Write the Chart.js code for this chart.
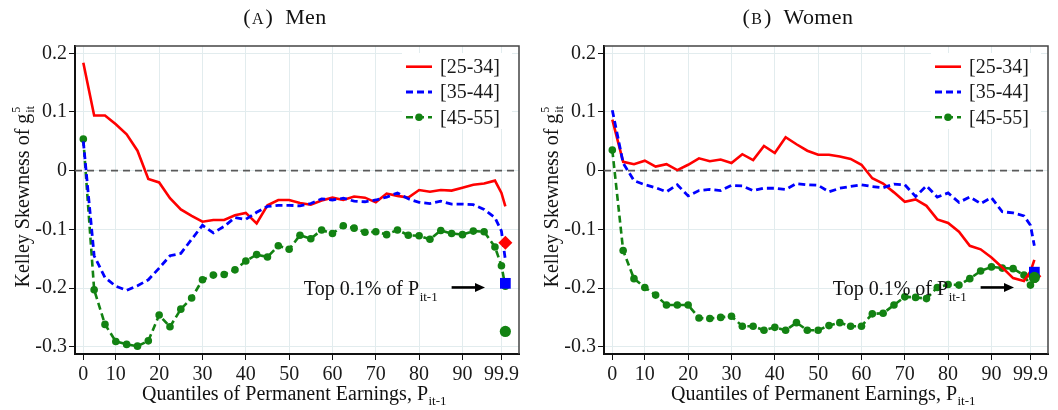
<!DOCTYPE html>
<html><head><meta charset="utf-8">
<script src="https://cdn.jsdelivr.net/npm/chart.js@4.4.1/dist/chart.umd.min.js"></script>
<style>
html,body{margin:0;padding:0;background:#fff;}
#wrap{position:relative;width:1058px;height:410px;overflow:hidden;font-family:"Liberation Serif","Times New Roman",serif;}
canvas{position:absolute;top:0;}
.ttl{position:absolute;top:5px;width:240px;text-align:center;font-size:22px;line-height:24px;color:#111;letter-spacing:0.4px;white-space:nowrap;}
.sc{font-size:16px;letter-spacing:1px;padding:0 1px;}
</style></head><body>
<div id="wrap">
<canvas id="c1" width="529" height="410" style="left:0"></canvas>
<canvas id="c2" width="529" height="410" style="left:529px"></canvas>
<div class="ttl" style="left:165px">(<span class="sc">A</span>)&nbsp;&nbsp;Men</div>
<div class="ttl" style="left:678px">(<span class="sc">B</span>)&nbsp;&nbsp;Women</div>
</div>
<script>
// ---- data ----
const quantiles = [2.5,5,7.5,10,12.5,15,17.5,20,22.5,25,27.5,30,32.5,35,37.5,40,42.5,45,47.5,50,
  52.5,55,57.5,60,62.5,65,67.5,70,72.5,75,77.5,80,82.5,85,87.5,90,92.5,95,97.5,99,99.9];
const top01X = 99.9;
const xTickPos = [2.5,10,20,30,40,50,60,70,80,90,99];
const xTickLabels = ['0','10','20','30','40','50','60','70','80','90','99.9'];
const yTicks = [-0.3,-0.2,-0.1,0,0.1,0.2];
const seriesLabels = ['[25-34]','[35-44]','[45-55]'];

const menRed = [0.184,0.094,0.094,0.079,0.062,0.034,-0.014,-0.020,-0.047,-0.066,
  -0.077,-0.087,-0.084,-0.084,-0.076,-0.072,-0.090,-0.059,-0.050,-0.050,
  -0.055,-0.058,-0.051,-0.046,-0.050,-0.044,-0.046,-0.054,-0.039,-0.043,
  -0.046,-0.033,-0.036,-0.033,-0.034,-0.029,-0.024,-0.022,-0.017,-0.038,-0.061];
const menBlue = [0.050,-0.145,-0.182,-0.197,-0.204,-0.196,-0.186,-0.166,-0.145,-0.141,
  -0.117,-0.093,-0.106,-0.095,-0.080,-0.083,-0.071,-0.061,-0.059,-0.059,
  -0.060,-0.056,-0.048,-0.050,-0.047,-0.052,-0.053,-0.050,-0.045,-0.038,
  -0.048,-0.054,-0.056,-0.052,-0.057,-0.057,-0.058,-0.066,-0.080,-0.103,-0.152];
const menGreen = [0.054,-0.203,-0.262,-0.291,-0.296,-0.299,-0.290,-0.246,-0.266,-0.236,
  -0.217,-0.186,-0.178,-0.177,-0.169,-0.154,-0.143,-0.147,-0.128,-0.134,
  -0.110,-0.116,-0.101,-0.107,-0.094,-0.098,-0.105,-0.104,-0.109,-0.101,
  -0.110,-0.111,-0.117,-0.102,-0.107,-0.109,-0.103,-0.104,-0.130,-0.162,-0.197];
const menTop01 = [-0.123,-0.192,-0.274];

const womenRed = [0.087,0.015,0.011,0.017,0.007,0.011,0.001,0.010,0.021,0.016,
  0.019,0.013,0.028,0.018,0.042,0.030,0.057,0.045,0.034,0.027,
  0.027,0.024,0.020,0.010,-0.013,-0.022,-0.037,-0.053,-0.049,-0.060,
  -0.083,-0.089,-0.104,-0.128,-0.134,-0.148,-0.165,-0.183,-0.188,-0.172,-0.152];
const womenBlue = [0.103,0.013,-0.017,-0.024,-0.029,-0.036,-0.024,-0.043,-0.034,-0.032,
  -0.034,-0.025,-0.026,-0.034,-0.030,-0.030,-0.032,-0.022,-0.024,-0.025,
  -0.036,-0.030,-0.027,-0.024,-0.027,-0.029,-0.023,-0.024,-0.044,-0.026,
  -0.045,-0.038,-0.054,-0.045,-0.056,-0.046,-0.070,-0.072,-0.077,-0.093,-0.128];
const womenGreen = [0.035,-0.136,-0.184,-0.199,-0.212,-0.229,-0.229,-0.229,-0.251,-0.252,
  -0.250,-0.248,-0.265,-0.265,-0.272,-0.267,-0.272,-0.259,-0.272,-0.272,
  -0.264,-0.259,-0.265,-0.265,-0.244,-0.243,-0.229,-0.215,-0.216,-0.218,
  -0.199,-0.194,-0.195,-0.184,-0.171,-0.164,-0.166,-0.167,-0.178,-0.195,-0.185];
const womenTop01 = [-0.180,-0.173,-0.182];

// ---- styling ----
const SERIF = '"Liberation Serif","Times New Roman",serif';
const RED = '#ff0000', BLUE = '#0000ff', GREEN = '#128212';
const GRID = '#e2ecee';

function pts(arr){ return quantiles.map((x,i)=>({x:x, y:arr[i]})); }

const decoPlugin = {
  id:'deco',
  beforeDatasetsDraw(chart){
    const ctx = chart.ctx, a = chart.chartArea, ys = chart.scales.y;
    const y0 = ys.getPixelForValue(0);
    ctx.save();
    ctx.strokeStyle = '#5a5a5a'; ctx.lineWidth = 1.6; ctx.setLineDash([7,5]);
    ctx.beginPath(); ctx.moveTo(a.left, y0); ctx.lineTo(a.right, y0); ctx.stroke();
    ctx.restore();
  },
  afterDatasetsDraw(chart){
    const ctx = chart.ctx, a = chart.chartArea, xs = chart.scales.x, ys = chart.scales.y;
    const ds = chart.data.datasets;
    ctx.save();
    // frame top/right
    ctx.strokeStyle = '#444'; ctx.lineWidth = 1.5; ctx.setLineDash([]);
    ctx.beginPath(); ctx.moveTo(a.left, a.top); ctx.lineTo(a.right, a.top); ctx.lineTo(a.right, a.bottom); ctx.stroke();
    // legend
    ctx.fillStyle = '#fff';
    ctx.fillRect(a.right-117, a.top+7, 110, 76);
    const rows = [a.top+20.7, a.top+46, a.top+71.3];
    const lx0 = a.right-113, lx1 = a.right-87, tx = a.right-79;
    ctx.font = '20px ' + SERIF; ctx.textBaseline = 'middle'; ctx.textAlign = 'left';
    for (let i=0;i<3;i++){
      const d = ds[i];
      ctx.strokeStyle = d.borderColor; ctx.lineWidth = d.borderWidth;
      ctx.setLineDash(d.borderDash || []);
      ctx.beginPath(); ctx.moveTo(lx0, rows[i]); ctx.lineTo(lx1, rows[i]); ctx.stroke();
      ctx.setLineDash([]);
      if (d.pointRadius > 0){
        ctx.fillStyle = d.borderColor;
        ctx.beginPath(); ctx.arc((lx0+lx1)/2, rows[i], d.pointRadius, 0, Math.PI*2); ctx.fill();
      }
      ctx.fillStyle = '#1a1a1a';
      ctx.fillText(d.label, tx, rows[i]+1);
    }
    // annotation
    ctx.fillStyle = '#111'; ctx.textBaseline = 'alphabetic';
    const ax = xs.getPixelForValue(53.4), ay = ys.getPixelForValue(-0.2125);
    ctx.font = '20px ' + SERIF;
    const t1 = 'Top 0.1% of P';
    ctx.fillText(t1, ax, ay);
    const w1 = ctx.measureText(t1).width;
    ctx.font = '13px ' + SERIF;
    ctx.fillText('it-1', ax + w1 + 0.5, ay + 6);
    // arrow
    const x0 = xs.getPixelForValue(87.5), x1 = xs.getPixelForValue(95.2), yA = ys.getPixelForValue(-0.199);
    ctx.strokeStyle = '#000'; ctx.lineWidth = 2.6;
    ctx.beginPath(); ctx.moveTo(x0, yA); ctx.lineTo(x1-8, yA); ctx.stroke();
    ctx.fillStyle = '#000';
    ctx.beginPath(); ctx.moveTo(x1, yA); ctx.lineTo(x1-10, yA-4.5); ctx.lineTo(x1-10, yA+4.5); ctx.closePath(); ctx.fill();
    ctx.restore();
  },
  afterDraw(chart){
    const ctx = chart.ctx, a = chart.chartArea;
    ctx.save();
    ctx.fillStyle = '#111'; ctx.textBaseline = 'alphabetic'; ctx.textAlign = 'left';
    // x title
    ctx.font = '20px ' + SERIF;
    const xt = 'Quantiles of Permanent Earnings, P';
    const wx = ctx.measureText(xt).width;
    ctx.font = '13px ' + SERIF;
    const wsub = ctx.measureText('it-1').width;
    const cx = (a.left + a.right)/2 - 3;
    const sx = cx - (wx + wsub)/2;
    ctx.font = '20px ' + SERIF;
    ctx.fillText(xt, sx, 400);
    ctx.font = '13px ' + SERIF;
    ctx.fillText('it-1', sx + wx + 0.5, 405);
    // y title
    ctx.translate(29, (a.top + a.bottom)/2 - 3);
    ctx.rotate(-Math.PI/2);
    ctx.font = '20px ' + SERIF;
    const yt = 'Kelley Skewness of g';
    const wy = ctx.measureText(yt).width;
    ctx.font = '13px ' + SERIF;
    const ws = Math.max(ctx.measureText('5').width, ctx.measureText('it').width);
    const sy = -(wy + ws)/2;
    ctx.font = '20px ' + SERIF;
    ctx.fillText(yt, sy, 0);
    ctx.font = '12px ' + SERIF;
    ctx.fillText('5', sy + wy + 1, -9);
    ctx.fillText('it', sy + wy + 1, 5);
    ctx.restore();
  }
};

function makeChart(id, red, blue, green, top){
  return new Chart(document.getElementById(id), {
    type: 'line',
    data: { datasets: [
      {label: seriesLabels[0], data: pts(red), borderColor: RED, borderWidth: 2.6, pointRadius: 0, tension: 0, order: 4},
      {label: seriesLabels[1], data: pts(blue), borderColor: BLUE, borderWidth: 2.8, borderDash: [7,4], pointRadius: 0, tension: 0, order: 3},
      {label: seriesLabels[2], data: pts(green), borderColor: GREEN, backgroundColor: GREEN, borderWidth: 2.6, borderDash: [7,4],
        pointRadius: 3.8, pointBackgroundColor: GREEN, pointBorderWidth: 0, tension: 0, order: 5},
      {label: 'top-red', data: [{x: top01X, y: top[0]}], showLine: false, pointStyle: 'rectRot', pointRadius: 7,
        pointBackgroundColor: RED, pointBorderWidth: 0, order: 2},
      {label: 'top-blue', data: [{x: top01X, y: top[1]}], showLine: false, pointStyle: 'rect', pointRadius: 7.6,
        pointBackgroundColor: BLUE, pointBorderWidth: 0, order: 1},
      {label: 'top-green', data: [{x: top01X, y: top[2]}], showLine: false, pointStyle: 'circle', pointRadius: 5.6,
        pointBackgroundColor: GREEN, pointBorderWidth: 0, order: 0}
    ]},
    options: {
      responsive: false, animation: false, devicePixelRatio: 1,
      layout: {padding: {left: 0, top: 46, right: 10, bottom: 0}},
      plugins: {legend: {display: false}, tooltip: {enabled: false}, title: {display: false}},
      scales: {
        x: {
          type: 'linear', min: 0.58, max: 103.05,
          afterBuildTicks: s => { s.ticks = xTickPos.map(v => ({value: v})); },
          afterFit: s => { s.height = 56; },
          ticks: {callback: (v, i) => xTickLabels[i], font: {family: SERIF, size: 20}, color: '#1a1a1a',
                  padding: 3, maxRotation: 0, autoSkip: false},
          grid: {color: GRID, lineWidth: 1, tickLength: 6, tickColor: '#111', drawTicks: true},
          border: {display: true, color: '#111', width: 2}
        },
        y: {
          type: 'linear', min: -0.3124, max: 0.2124,
          afterBuildTicks: s => { s.ticks = yTicks.map(v => ({value: v})); },
          afterFit: s => { s.width = 75; },
          ticks: {callback: v => (Math.abs(v) < 1e-9 ? '0' : v.toFixed(1)), font: {family: SERIF, size: 20},
                  color: '#1a1a1a', padding: 2},
          grid: {color: GRID, lineWidth: 1, tickLength: 6, tickColor: '#111', drawTicks: true},
          border: {display: true, color: '#111', width: 2}
        }
      }
    },
    plugins: [decoPlugin]
  });
}

makeChart('c1', menRed, menBlue, menGreen, menTop01);
makeChart('c2', womenRed, womenBlue, womenGreen, womenTop01);
</script>
</body></html>
